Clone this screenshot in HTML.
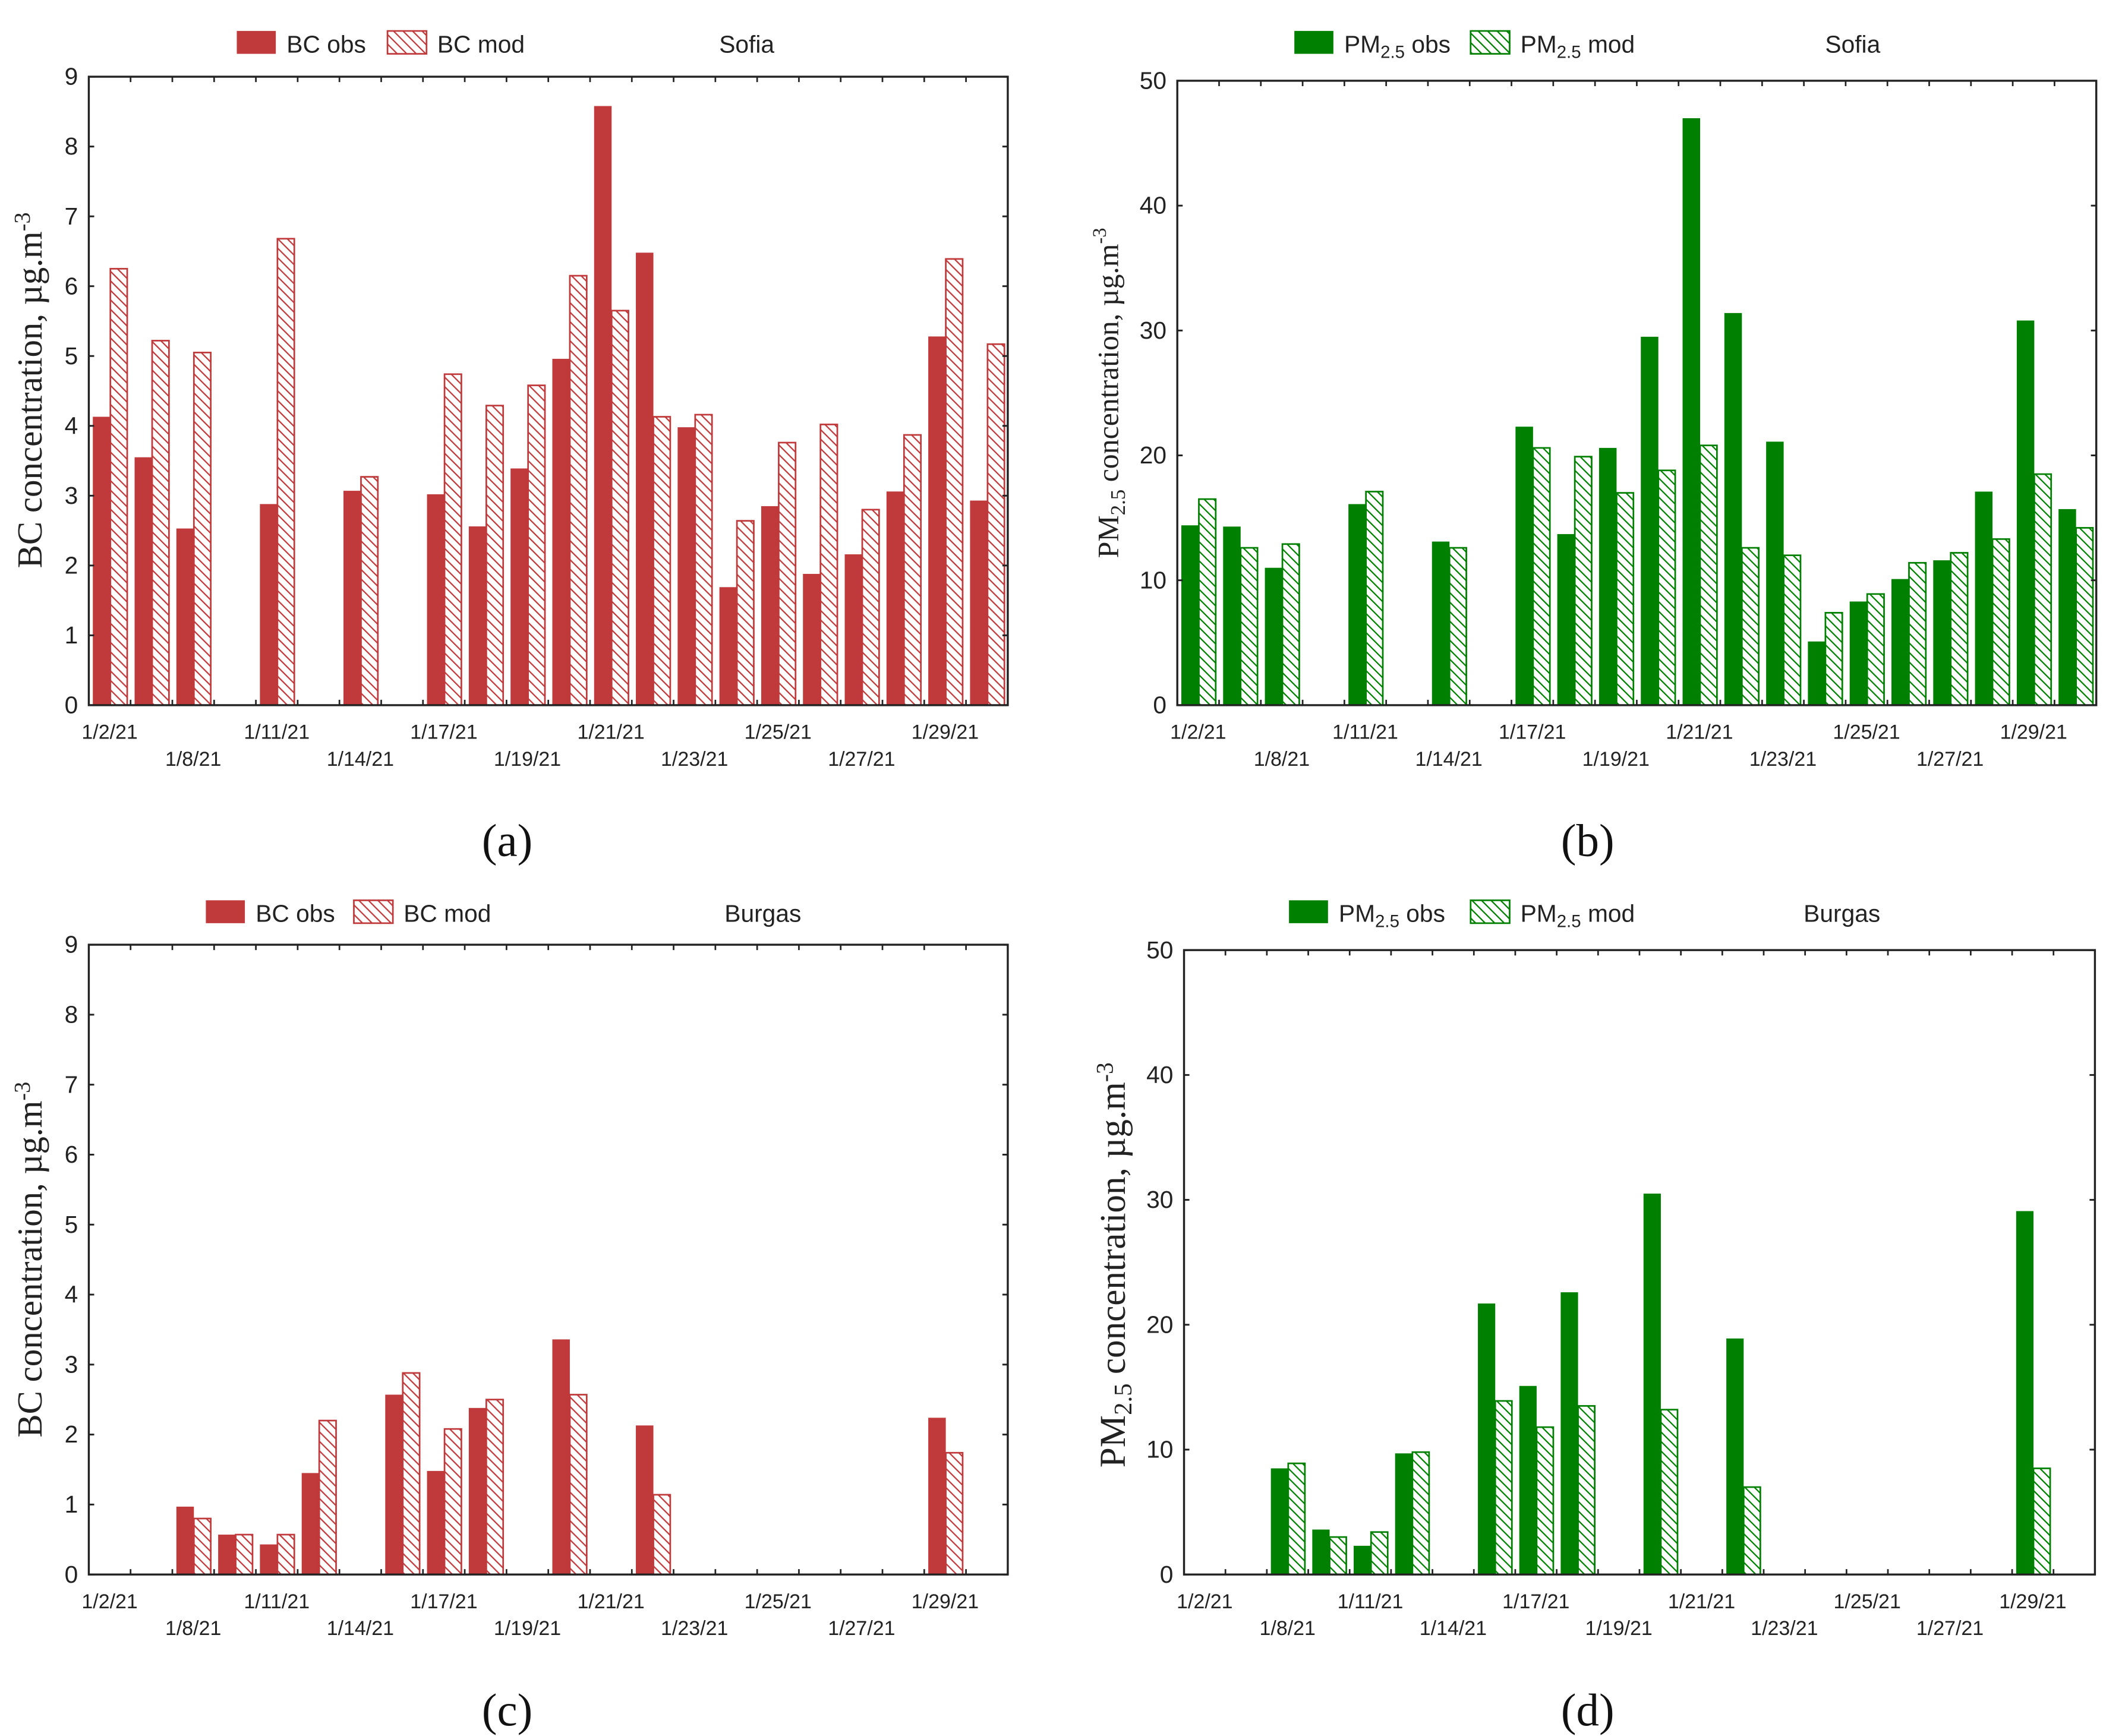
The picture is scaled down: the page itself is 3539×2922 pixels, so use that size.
<!DOCTYPE html>
<html><head><meta charset="utf-8">
<style>
html,body{margin:0;padding:0;background:#fff;}
svg{display:block;}
.tk{font-family:"Liberation Sans",sans-serif;font-size:18px;fill:#222;}
.xl{font-family:"Liberation Sans",sans-serif;font-size:15px;fill:#222;}
.lg{font-family:"Liberation Sans",sans-serif;font-size:18px;fill:#222;}
.yt{font-family:"Liberation Serif",serif;fill:#222;}
.pl{font-family:"Liberation Serif",serif;font-size:34px;fill:#111;}
</style></head>
<body>
<svg id="fig" width="3539" height="2922" viewBox="0 0 1563 1290" preserveAspectRatio="none" xmlns="http://www.w3.org/2000/svg">
<defs>
<pattern id="hr" patternUnits="userSpaceOnUse" width="5" height="5" patternTransform="rotate(-45)"><rect width="5" height="5" fill="#fff"/><line x1="0" y1="0" x2="0" y2="5" stroke="#c0393b" stroke-width="2"/></pattern>
<pattern id="hg" patternUnits="userSpaceOnUse" width="5" height="5" patternTransform="rotate(-45)"><rect width="5" height="5" fill="#fff"/><line x1="0" y1="0" x2="0" y2="5" stroke="#008000" stroke-width="2"/></pattern>
</defs>
</svg>
<script>
const categories = ["1/2/21","1/5/21","1/8/21","1/9/21","1/11/21","1/12/21","1/14/21","1/15/21","1/17/21","1/18/21","1/19/21","1/20/21","1/21/21","1/22/21","1/23/21","1/24/21","1/25/21","1/26/21","1/27/21","1/28/21","1/29/21","1/30/21"];
const labeledCats = ["1/2/21","1/8/21","1/11/21","1/14/21","1/17/21","1/19/21","1/21/21","1/23/21","1/25/21","1/27/21","1/29/21"];
const bcSofiaObs = [4.13,3.55,2.53,null,2.88,null,3.07,null,3.02,2.56,3.39,4.96,8.58,6.48,3.98,1.69,2.85,1.88,2.16,3.06,5.28,2.93];
const bcSofiaMod = [6.25,5.22,5.05,null,6.68,null,3.27,null,4.74,4.29,4.58,6.15,5.65,4.13,4.16,2.64,3.76,4.02,2.80,3.87,6.39,5.17];
const pmSofiaObs = [14.4,14.3,11.0,null,16.1,null,13.1,null,22.3,13.7,20.6,29.5,47.0,31.4,21.1,5.1,8.3,10.1,11.6,17.1,30.8,15.7];
const pmSofiaMod = [16.5,12.6,12.9,null,17.1,null,12.6,null,20.6,19.9,17.0,18.8,20.8,12.6,12.0,7.4,8.9,11.4,12.2,13.3,18.5,14.2];
const bcBurgasObs = [null,null,0.97,0.57,0.43,1.45,null,2.57,1.48,2.38,null,3.36,null,2.13,null,null,null,null,null,null,2.24,null];
const bcBurgasMod = [null,null,0.80,0.57,0.57,2.20,null,2.88,2.08,2.50,null,2.57,null,1.14,null,null,null,null,null,null,1.74,null];
const pmBurgasObs = [null,null,8.5,3.6,2.3,9.7,null,21.7,15.1,22.6,null,30.5,null,18.9,null,null,null,null,null,null,29.1,null];
const pmBurgasMod = [null,null,8.9,3.0,3.4,9.8,null,13.9,11.8,13.5,null,13.2,null,7.0,null,null,null,null,null,null,8.5,null];
const bcTicks = [0,1,2,3,4,5,6,7,8,9];
const pmTicks = [0,10,20,30,40,50];

const NS = "http://www.w3.org/2000/svg";
const svg = document.getElementById('fig');
function mk(tag, attrs, parent, text){
  const e = document.createElementNS(NS, tag);
  for (const k in attrs) e.setAttribute(k, attrs[k]);
  if (text !== undefined) e.textContent = text;
  (parent||svg).appendChild(e);
  return e;
}

function chart(cfg){
  const g = mk('g', {});
  
  
  const L=cfg.l, R=cfg.r, T=cfg.t, B=cfg.b;
  const yMax = cfg.ticks[cfg.ticks.length-1];
  const n = categories.length;
  const sw = (R-L)/n;
  const xS = i => L + i*sw;
  const yS = v => B - (v/yMax)*(B-T);
  for (let i=0;i<n;i++){
    if (cfg.obs[i]!=null){
      const r = mk('rect',{x:xS(i)+3,y:yS(cfg.obs[i]),width:sw/2-2.5,height:B-yS(cfg.obs[i]),fill:cfg.color},g);
      
      
    }
    if (cfg.mod[i]!=null){
      const r = mk('rect',{x:xS(i)+sw/2+0.5,y:yS(cfg.mod[i]),width:sw/2-3,height:B-yS(cfg.mod[i]),fill:'url(#'+cfg.pat+')',stroke:cfg.color,'stroke-width':1.2},g);
      
      
    }
  }
  const fr = mk('rect',{x:L,y:T,width:R-L,height:B-T,fill:'none',stroke:'#222','stroke-width':1.5},g);
  
  
  cfg.ticks.forEach(v=>{
    const y=yS(v);
    mk('line',{x1:L,y1:y,x2:L+4,y2:y,stroke:'#222','stroke-width':1.3},g);
    mk('line',{x1:R,y1:y,x2:R-4,y2:y,stroke:'#222','stroke-width':1.3},g);
    const t = mk('text',{x:L-8,y:y+6,'text-anchor':'end',class:'tk'},g,String(v));
    
    
  });
  for (let i=0;i<=n;i++){
    mk('line',{x1:xS(i),y1:T,x2:xS(i),y2:T+4,stroke:'#222','stroke-width':1.2},g);
    mk('line',{x1:xS(i),y1:B,x2:xS(i),y2:B-4,stroke:'#222','stroke-width':1.2},g);
  }
  labeledCats.forEach((c,k)=>{
    const i = categories.indexOf(c);
    const t = mk('text',{x:xS(i)+sw/2,y:B+(k%2?45:25),'text-anchor':'middle',class:'xl'},g,c);
    
    
  });
  const yt = mk('text',{transform:'translate('+cfg.ytx+','+cfg.yty+') rotate(-90)','text-anchor':'middle',class:'yt','font-size':cfg.yfs},g);
  
  
  if (cfg.pm){
    mk('tspan',{},yt,'PM');
    mk('tspan',{'font-size':cfg.yfs*0.7,dy:5},yt,'2.5');
    mk('tspan',{dy:-5},yt,' concentration, µg.m');
  } else {
    mk('tspan',{},yt,'BC concentration, µg.m');
  }
  mk('tspan',{'font-size':cfg.yfs*0.65,dy:-9},yt,'-3');
  const lg = mk('g',{},g);
  
  
  const ly = cfg.ly;
  mk('rect',{x:cfg.lx[0],y:ly-9,width:29,height:17,fill:cfg.color},lg);
  const t1 = mk('text',{x:cfg.lx[0]+37,y:ly+7,class:'lg'},lg);
  mk('rect',{x:cfg.lx[1],y:ly-9,width:29,height:17,fill:'url(#'+cfg.pat+')',stroke:cfg.color,'stroke-width':1.2},lg);
  const t2 = mk('text',{x:cfg.lx[1]+37,y:ly+7,class:'lg'},lg);
  if (cfg.pm){
    mk('tspan',{},t1,'PM');mk('tspan',{'font-size':13,dy:4},t1,'2.5');mk('tspan',{dy:-4},t1,' obs');
    mk('tspan',{},t2,'PM');mk('tspan',{'font-size':13,dy:4},t2,'2.5');mk('tspan',{dy:-4},t2,' mod');
  } else { t1.textContent='BC obs'; t2.textContent='BC mod'; }
  mk('text',{x:cfg.lx[2],y:ly+7,'text-anchor':'middle',class:'lg'},lg,cfg.city);
  const pl = mk('text',{x:cfg.plx,y:cfg.ply,'text-anchor':'middle',class:'pl'},g,cfg.panel);
  
  
}

chart({name:'chart-a-bc-sofia',l:66,r:749,t:57,b:524,ticks:bcTicks,obs:bcSofiaObs,mod:bcSofiaMod,color:'#c0393b',pat:'hr',pm:false,ytx:31,yty:290,yfs:26,ly:32,lx:[176,288,555],city:'Sofia',plx:377,ply:636,panel:'(a)'});
chart({name:'chart-b-pm-sofia',l:875,r:1558,t:60,b:524,ticks:pmTicks,obs:pmSofiaObs,mod:pmSofiaMod,color:'#008000',pat:'hg',pm:true,ytx:831,yty:292,yfs:22,ly:32,lx:[962,1093,1377],city:'Sofia',plx:1180,ply:636,panel:'(b)'});
chart({name:'chart-c-bc-burgas',l:66,r:749,t:702,b:1170,ticks:bcTicks,obs:bcBurgasObs,mod:bcBurgasMod,color:'#c0393b',pat:'hr',pm:false,ytx:31,yty:936,yfs:26,ly:678,lx:[153,263,567],city:'Burgas',plx:377,ply:1282,panel:'(c)'});
chart({name:'chart-d-pm-burgas',l:880,r:1557,t:706,b:1170,ticks:pmTicks,obs:pmBurgasObs,mod:pmBurgasMod,color:'#008000',pat:'hg',pm:true,ytx:836,yty:940,yfs:27,ly:678,lx:[958,1093,1369],city:'Burgas',plx:1180,ply:1282,panel:'(d)'});
</script>
</body></html>
